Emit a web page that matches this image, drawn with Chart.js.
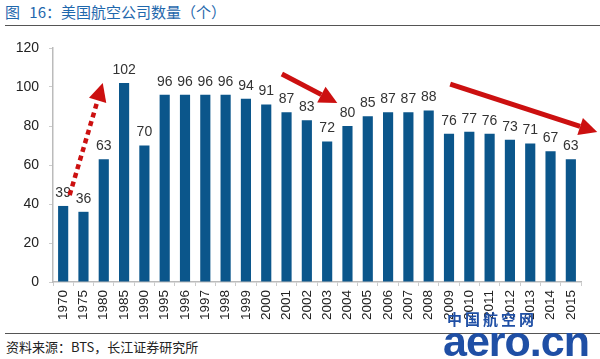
<!DOCTYPE html>
<html>
<head>
<meta charset="utf-8">
<script src="https://cdn.jsdelivr.net/npm/chart.js@4/dist/chart.umd.min.js"></script>
<style>
  body { margin: 0; width: 600px; height: 359px; background: #fff; position: relative; overflow: hidden; font-family: "Liberation Sans", Arial, sans-serif; }
  #title { position: absolute; left: 5px; top: 1px; font: 15px "Noto Sans CJK SC", sans-serif; color: #1f68ad; word-spacing: 6px; }
  .rule { position: absolute; left: 5px; right: 0; height: 0; border-top: 1.5px solid #555; }
  #box { position: absolute; left: 0; top: 28px; width: 600px; height: 302px; }
  #source { position: absolute; left: 6px; top: 337px; font: 13px "Noto Sans CJK SC", sans-serif; color: #222; }
  #mark1 { position: absolute; left: 447px; top: 308px; font: bold 15px "Noto Sans CJK SC", sans-serif; color: #1f4fa5; letter-spacing: 3px; }
  #mark2 { position: absolute; left: 443px; top: 321px; font: bold 43px "Liberation Sans", Arial, sans-serif; color: #1f4fa5; line-height: 40px; letter-spacing: -1px; }
</style>
</head>
<body>
<div id="title">图 16：美国航空公司数量（个）</div>
<div class="rule" style="top:25px"></div>
<div id="box"><canvas id="fleetChart"></canvas></div>
<div class="rule" style="top:333px"></div>
<div id="source">资料来源：BTS，长江证券研究所</div>
<div id="mark1">中国航空网</div>
<div id="mark2">aero.cn</div>
<script>
const years = ['1970','1975','1980','1985','1990','1995','1996','1997','1998','1999','2000','2001','2002',
               '2003','2004','2005','2006','2007','2008','2009','2010','2011','2012','2013','2014','2015'];
const carriers = [39, 36, 63, 102, 70, 96, 96, 96, 96, 94, 91, 87, 83, 72, 80, 85, 87, 87, 88, 76, 77, 76, 73, 71, 67, 63];
const yTicks = [0, 20, 40, 60, 80, 100, 120];

// trend arrows: [from index, from value, to index, to value, dashed]
const arrowFrom = [[0.32, 44.6], [10.77, 106.7], [19.06, 101.5]];
const arrowTo = [[1.95, 102], [13.5, 91.8], [26.3, 76.9]];
const arrowDashed = [true, false, false];

const labelPlugin = {
    id: 'barLabels',
    afterDatasetsDraw(chart) {
        const ctx = chart.ctx;
        const meta = chart.getDatasetMeta(0);
        ctx.save();
        ctx.font = '14px "Liberation Sans", Arial, sans-serif';
        ctx.fillStyle = '#333';
        ctx.textAlign = 'center';
        ctx.textBaseline = 'bottom';
        meta.data.forEach(function(bar, i) {
            ctx.fillText(carriers[i], bar.x, bar.y - 6);
        });
        ctx.restore();
    }
};

const arrowPlugin = {
    id: 'trendArrows',
    afterDraw(chart) {
        const ctx = chart.ctx;
        const xs = chart.scales.x, ys = chart.scales.y;
        const step = xs.getPixelForValue(1) - xs.getPixelForValue(0);
        const px = v => xs.getPixelForValue(0) + v * step;
        ctx.save();
        arrowFrom.forEach(function(f, i) {
            const t = arrowTo[i];
            const x1 = px(f[0]), y1 = ys.getPixelForValue(f[1]);
            const x2 = px(t[0]), y2 = ys.getPixelForValue(t[1]);
            const ang = Math.atan2(y2 - y1, x2 - x1);
            const head = 18, half = 9;
            const bx = x2 - head * Math.cos(ang), by = y2 - head * Math.sin(ang);
            ctx.strokeStyle = '#cc1010';
            ctx.fillStyle = '#cc1010';
            ctx.lineWidth = arrowDashed[i] ? 4.5 : 5;
            ctx.setLineDash(arrowDashed[i] ? [5, 4] : []);
            ctx.beginPath();
            ctx.moveTo(x1, y1);
            ctx.lineTo(bx, by);
            ctx.stroke();
            ctx.setLineDash([]);
            ctx.beginPath();
            ctx.moveTo(x2, y2);
            ctx.lineTo(bx + half * Math.sin(ang), by - half * Math.cos(ang));
            ctx.lineTo(bx - half * Math.sin(ang), by + half * Math.cos(ang));
            ctx.closePath();
            ctx.fill();
        });
        ctx.restore();
    }
};

new Chart(document.getElementById('fleetChart').getContext('2d'), {
    type: 'bar',
    data: {
        labels: years,
        datasets: [{
            data: carriers,
            backgroundColor: '#0b568b',
            barPercentage: 0.5,
            categoryPercentage: 1.0
        }]
    },
    options: {
        responsive: true,
        maintainAspectRatio: false,
        animation: false,
        layout: { padding: { top: 20, right: 19, left: 0, bottom: 0 } },
        plugins: { legend: { display: false }, tooltip: { enabled: false } },
        scales: {
            x: {
                grid: { display: true, drawOnChartArea: false, color: '#ccc', tickLength: 4, offset: true },
                border: { color: '#bbb', width: 1.5 },
                ticks: {
                    color: '#222', font: { size: 13.5, family: '"Liberation Sans", Arial, sans-serif' },
                    minRotation: 90, maxRotation: 90, autoSkip: false, padding: 4
                },
                afterFit(scale) { scale.height = 48; }
            },
            y: {
                min: 0, max: 120,
                afterBuildTicks(scale) { scale.ticks = yTicks.map(v => ({ value: v })); },
                grid: { display: true, drawOnChartArea: false, color: '#ccc', tickLength: 4 },
                border: { color: '#bbb', width: 1.5 },
                ticks: { color: '#222', font: { size: 14, family: '"Liberation Sans", Arial, sans-serif' }, padding: 10 },
                afterFit(scale) { scale.width = 53; }
            }
        }
    },
    plugins: [labelPlugin, arrowPlugin]
});
</script>
</body>
</html>
